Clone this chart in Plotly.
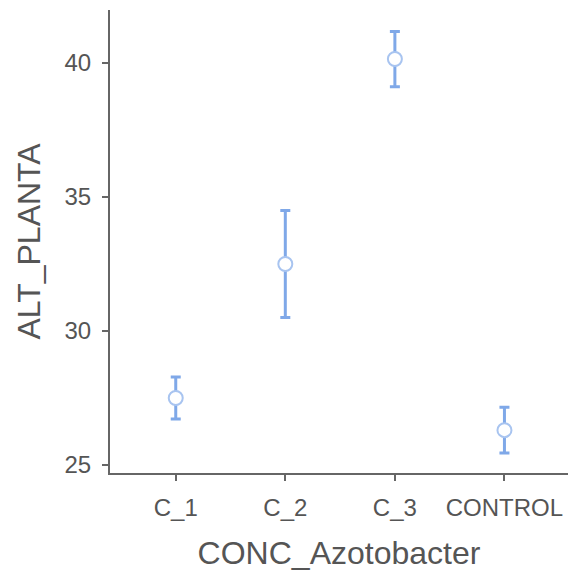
import plotly.graph_objects as go

categories = ["C_1", "C_2", "C_3", "CONTROL"]
means = [27.5, 32.5, 40.15, 26.3]
errors = [0.78, 2.0, 1.03, 0.85]
y_ticks = [25, 30, 35, 40]

color = "#7fa8e8"

fig = go.Figure()
fig.add_trace(go.Scatter(
    x=list(range(len(categories))),
    y=means,
    mode="markers",
    marker=dict(symbol="circle", size=14, color="white",
                line=dict(color="#a8c4f0", width=2)),
    error_y=dict(type="data", array=errors, color=color, thickness=3, width=5),
    showlegend=False,
))

fig.update_layout(
    width=568, height=574,
    margin=dict(l=110, r=0, t=10, b=101),
    plot_bgcolor="white", paper_bgcolor="white",
    font=dict(family="Liberation Sans, Arial, sans-serif", color="#4d4d4d"),
    xaxis=dict(
        range=[-0.6, 3.58],
        tickmode="array", tickvals=list(range(len(categories))), ticktext=categories,
        showline=True, linecolor="#666", linewidth=2,
        ticks="outside", ticklen=6, tickwidth=2, tickcolor="#666",
        showgrid=False, zeroline=False,
        tickfont=dict(size=24, color="#555"),
        ticklabelstandoff=6,
        title=dict(text="CONC_Azotobacter", font=dict(size=32, color="#555"), standoff=22),
    ),
    yaxis=dict(
        range=[24.7, 41.98],
        tickvals=y_ticks,
        showline=True, linecolor="#666", linewidth=2,
        ticks="outside", ticklen=6, tickwidth=2, tickcolor="#666",
        showgrid=False, zeroline=False,
        tickfont=dict(size=24, color="#555"),
        ticklabelstandoff=6,
        title=dict(text="ALT_PLANTA", font=dict(size=32, color="#555"), standoff=14),
    ),
)

fig.write_html("out.html")
